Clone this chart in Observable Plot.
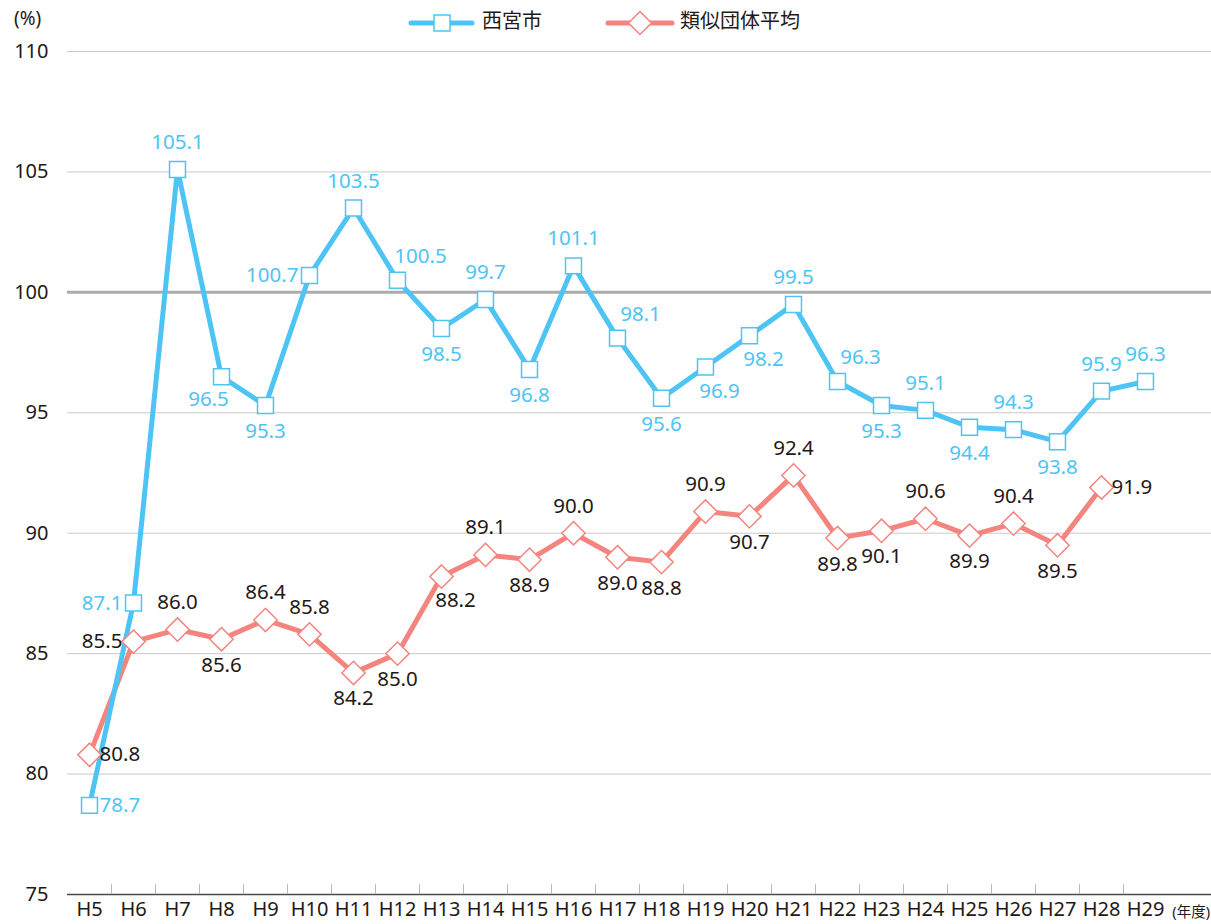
<!DOCTYPE html>
<html><head><meta charset="utf-8">
<script src="https://cdn.jsdelivr.net/npm/d3@7"></script>
<script src="https://cdn.jsdelivr.net/npm/@observablehq/plot@0.6"></script>
<style>
html,body{margin:0;padding:0;background:#fff;}
#chart{position:relative;width:1211px;height:924px;}
</style>
</head><body><div id="chart"></div>
<script>
const categories = ["H5","H6","H7","H8","H9","H10","H11","H12","H13","H14","H15","H16","H17","H18","H19","H20","H21","H22","H23","H24","H25","H26","H27","H28","H29"];
const nishinomiya = [78.7,87.1,105.1,96.5,95.3,100.7,103.5,100.5,98.5,99.7,96.8,101.1,98.1,95.6,96.9,98.2,99.5,96.3,95.3,95.1,94.4,94.3,93.8,95.9,96.3];
const ruiji = [80.8,85.5,86.0,85.6,86.4,85.8,84.2,85.0,88.2,89.1,88.9,90.0,89.0,88.8,90.9,90.7,92.4,89.8,90.1,90.6,89.9,90.4,89.5,91.9];
const nishinomiyaLabelPos = ["r","l","t","bl","b","l","t","tr","b","t","b","t","tr","b","br","br","t","tr","b","t","b","t","b","t","t"];
const ruijiLabelPos = ["r","l","t","b","t","t","b","b","br","t","b","t","b","b","t","b","t","b","b","t","b","t","b","r"];
const yTicks = [75,80,85,90,95,100,105,110];
const seriesNames = ["西宮市","類似団体平均"];

const BLUE = "#4ec4f5", RED = "#f4847e", TXT = "#231815";
const FONT = "'Noto Sans','Noto Sans CJK JP',sans-serif";

const off = {
  t:{dx:0,dy:-27,anchor:"middle"}, b:{dx:0,dy:26,anchor:"middle"},
  l:{dx:-11,dy:0,anchor:"end"}, r:{dx:10,dy:0,anchor:"start"},
  tr:{dx:23,dy:-24,anchor:"middle"}, br:{dx:14,dy:24,anchor:"middle"},
  bl:{dx:-13,dy:23,anchor:"middle"}
};
const blue = nishinomiya.map((v,i)=>({x:categories[i], y:v, pos:nishinomiyaLabelPos[i]}));
const red = ruiji.map((v,i)=>({x:categories[i], y:v, pos:ruijiLabelPos[i]}));

function labels(data, color){
  return Object.keys(off).map(k => Plot.text(data.filter(d=>d.pos===k), {
    x:"x", y:"y", text:d=>d.y.toFixed(1), dx:off[k].dx, dy:off[k].dy,
    textAnchor:off[k].anchor, fill:color, fontSize:20.5
  }));
}

const W = 1211, H = 924, mT = 51, mB = 30, mL = 67;
const bw = 44;
const frameH = H - mT - mB;
const tickLen = 10 * 35 / frameH;

const plot = Plot.plot({
  width: W, height: H,
  marginTop: mT, marginBottom: mB, marginLeft: mL, marginRight: 0,
  style: {fontFamily: FONT, color: TXT, background: "#fff"},
  x: {type:"band", domain: categories, range:[mL, mL + bw*categories.length], padding:0, axis:null},
  y: {domain:[75,110], axis:null},
  marks: [
    Plot.ruleY(yTicks.filter(t=>t>75 && t!==100), {stroke:"#c9c9c9", strokeWidth:1}),
    Plot.ruleY([100], {stroke:"#ababab", strokeWidth:3}),
    Plot.ruleY([75], {stroke:"#4a4a4a", strokeWidth:1.5}),
    Plot.ruleX(categories.slice(1), {x:d=>d, dx:-bw/2, y1:75, y2:75+tickLen, stroke:"#bbb", strokeWidth:1}),
    Plot.axisY({ticks: yTicks, tickSize:0, tickPadding:19, fontSize:20, fill:TXT, tickFormat:d=>d, label:null}),
    Plot.axisX({tickSize:0, tickPadding:7, fontSize:20, fill:TXT, label:null}),
    Plot.line(red, {x:"x", y:"y", stroke:RED, strokeWidth:5}),
    Plot.line(blue, {x:"x", y:"y", stroke:BLUE, strokeWidth:5}),
    Plot.dot(red, {x:"x", y:"y", symbol:"diamond2", r:10.5, fill:"#fff", stroke:RED, strokeWidth:1.5}),
    Plot.dot(blue, {x:"x", y:"y", symbol:"square", r:9, fill:"#fff", stroke:BLUE, strokeWidth:1.5}),
    ...labels(red, TXT),
    ...labels(blue, BLUE)
  ]
});
document.getElementById("chart").appendChild(plot);

// Extra texts and legend
const svg = d3.select(plot);
function addText(x, y, size, anchor, txt){
  return svg.append("text").attr("x",x).attr("y",y)
    .style("dominant-baseline","middle").style("text-anchor",anchor)
    .style("font-size", size+"px").style("font-family",FONT).style("fill",TXT).text(txt);
}
addText(14, 20, 19, "start", "(%)");
addText(1210, 913, 14.5, "end", "(年度)");

const ly = 23;
svg.append("line").attr("x1",411).attr("x2",472).attr("y1",ly).attr("y2",ly)
  .attr("stroke",BLUE).attr("stroke-width",5).attr("stroke-linecap","round");
svg.append("rect").attr("x",434).attr("y",ly-8).attr("width",16).attr("height",16)
  .attr("fill","#fff").attr("stroke",BLUE).attr("stroke-width",1.5);
addText(482, ly, 20, "start", seriesNames[0]);
svg.append("line").attr("x1",608).attr("x2",672).attr("y1",ly).attr("y2",ly)
  .attr("stroke",RED).attr("stroke-width",5).attr("stroke-linecap","round");
svg.append("path").attr("d",`M640,${ly-11.5}L651.5,${ly}L640,${ly+11.5}L628.5,${ly}Z`)
  .attr("fill","#fff").attr("stroke",RED).attr("stroke-width",1.5);
addText(680, ly, 20, "start", seriesNames[1]);
</script>
</body></html>
